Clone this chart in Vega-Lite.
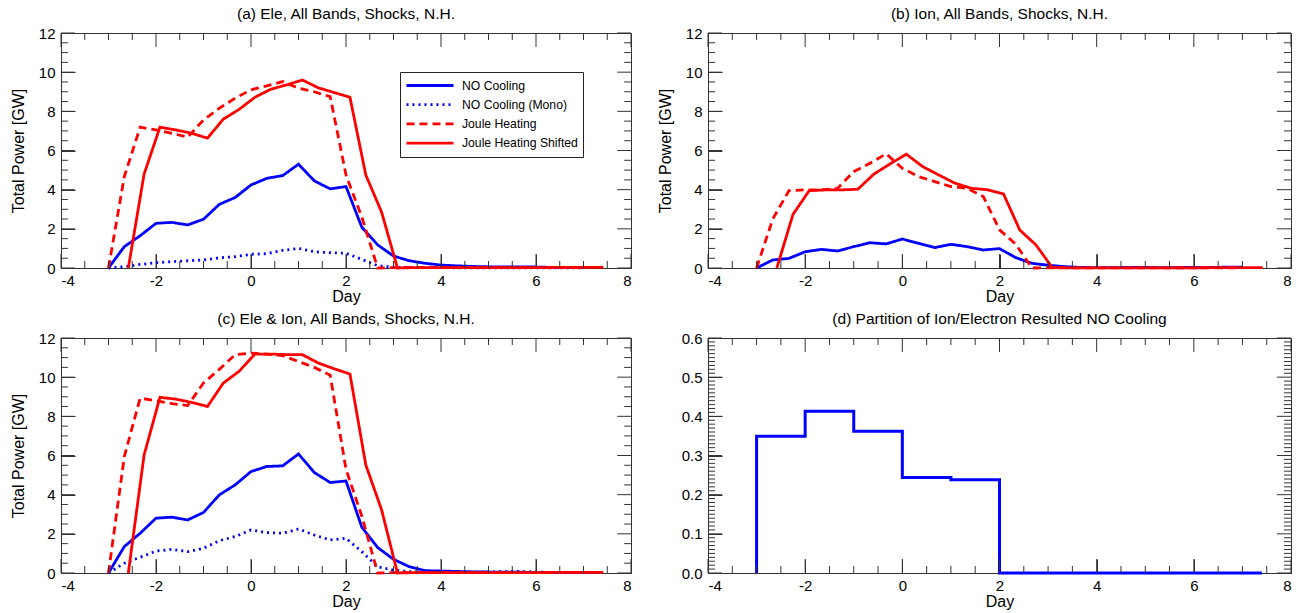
{
"$schema":"https://vega.github.io/schema/vega-lite/v6.json",
"background":"white",
"padding":{"left":9,"top":6,"right":8,"bottom":0},
"config":{
 "font":"Liberation Sans",
 "view":{"stroke":"#333"},
 "axis":{"labelFontSize":15,"labelColor":"black","titleFontSize":16,"titleFontWeight":"normal","titleColor":"black","grid":false,"domain":false,"tickColor":"#333"},
 "title":{"fontSize":15.5,"fontWeight":"normal","color":"black","offset":4}
},
"datasets":{
 "xmaj":[{"t":-4},{"t":-2},{"t":0},{"t":2},{"t":4},{"t":6},{"t":8}],
 "xmin":[{"t":-3.5},{"t":-3},{"t":-2.5},{"t":-1.5},{"t":-1},{"t":-0.5},{"t":0.5},{"t":1},{"t":1.5},{"t":2.5},{"t":3},{"t":3.5},{"t":4.5},{"t":5},{"t":5.5},{"t":6.5},{"t":7},{"t":7.5}],
 "ymaj":[{"t":0},{"t":2},{"t":4},{"t":6},{"t":8},{"t":10},{"t":12}],
 "ymin":[{"t":0.5},{"t":1},{"t":1.5},{"t":2.5},{"t":3},{"t":3.5},{"t":4.5},{"t":5},{"t":5.5},{"t":6.5},{"t":7},{"t":7.5},{"t":8.5},{"t":9},{"t":9.5},{"t":10.5},{"t":11},{"t":11.5}],
 "ydmaj":[{"t":0},{"t":0.1},{"t":0.2},{"t":0.3},{"t":0.4},{"t":0.5},{"t":0.6}],
 "ydmin":[{"t":0.01},{"t":0.02},{"t":0.03},{"t":0.04},{"t":0.05},{"t":0.06},{"t":0.07},{"t":0.08},{"t":0.09},{"t":0.11},{"t":0.12},{"t":0.13},{"t":0.14},{"t":0.15},{"t":0.16},{"t":0.17},{"t":0.18},{"t":0.19},{"t":0.21},{"t":0.22},{"t":0.23},{"t":0.24},{"t":0.25},{"t":0.26},{"t":0.27},{"t":0.28},{"t":0.29},{"t":0.31},{"t":0.32},{"t":0.33},{"t":0.34},{"t":0.35},{"t":0.36},{"t":0.37},{"t":0.38},{"t":0.39},{"t":0.41},{"t":0.42},{"t":0.43},{"t":0.44},{"t":0.45},{"t":0.46},{"t":0.47},{"t":0.48},{"t":0.49},{"t":0.51},{"t":0.52},{"t":0.53},{"t":0.54},{"t":0.55},{"t":0.56},{"t":0.57},{"t":0.58},{"t":0.59}]
},
"data":{"values":[
{"panel":"a","series":"NO Cooling","day":-3,"power":0},{"panel":"a","series":"NO Cooling","day":-2.667,"power":1.09},{"panel":"a","series":"NO Cooling","day":-2.333,"power":1.65},{"panel":"a","series":"NO Cooling","day":-2,"power":2.28},{"panel":"a","series":"NO Cooling","day":-1.667,"power":2.33},{"panel":"a","series":"NO Cooling","day":-1.333,"power":2.2},{"panel":"a","series":"NO Cooling","day":-1,"power":2.49},{"panel":"a","series":"NO Cooling","day":-0.667,"power":3.25},{"panel":"a","series":"NO Cooling","day":-0.333,"power":3.6},{"panel":"a","series":"NO Cooling","day":0,"power":4.24},{"panel":"a","series":"NO Cooling","day":0.333,"power":4.58},{"panel":"a","series":"NO Cooling","day":0.667,"power":4.72},{"panel":"a","series":"NO Cooling","day":1,"power":5.3},{"panel":"a","series":"NO Cooling","day":1.333,"power":4.45},{"panel":"a","series":"NO Cooling","day":1.667,"power":4.04},{"panel":"a","series":"NO Cooling","day":2,"power":4.16},{"panel":"a","series":"NO Cooling","day":2.333,"power":2.08},{"panel":"a","series":"NO Cooling","day":2.667,"power":1.18},{"panel":"a","series":"NO Cooling","day":3,"power":0.61},{"panel":"a","series":"NO Cooling","day":3.333,"power":0.37},{"panel":"a","series":"NO Cooling","day":3.667,"power":0.24},{"panel":"a","series":"NO Cooling","day":4,"power":0.15},{"panel":"a","series":"NO Cooling","day":4.333,"power":0.11},{"panel":"a","series":"NO Cooling","day":4.667,"power":0.08},{"panel":"a","series":"NO Cooling","day":5,"power":0.06},{"panel":"a","series":"NO Cooling","day":5.333,"power":0.05},{"panel":"a","series":"NO Cooling","day":5.667,"power":0.05},{"panel":"a","series":"NO Cooling","day":6,"power":0.05},{"panel":"a","series":"NO Cooling","day":6.333,"power":0.03},{"panel":"a","series":"NO Cooling","day":6.667,"power":0.02},{"panel":"a","series":"NO Cooling","day":7,"power":0.02},
{"panel":"a","series":"NO Cooling (Mono)","day":-3,"power":0},{"panel":"a","series":"NO Cooling (Mono)","day":-2.667,"power":0.07},{"panel":"a","series":"NO Cooling (Mono)","day":-2.333,"power":0.18},{"panel":"a","series":"NO Cooling (Mono)","day":-2,"power":0.27},{"panel":"a","series":"NO Cooling (Mono)","day":-1.667,"power":0.32},{"panel":"a","series":"NO Cooling (Mono)","day":-1.333,"power":0.37},{"panel":"a","series":"NO Cooling (Mono)","day":-1,"power":0.41},{"panel":"a","series":"NO Cooling (Mono)","day":-0.667,"power":0.52},{"panel":"a","series":"NO Cooling (Mono)","day":-0.333,"power":0.58},{"panel":"a","series":"NO Cooling (Mono)","day":0,"power":0.7},{"panel":"a","series":"NO Cooling (Mono)","day":0.333,"power":0.73},{"panel":"a","series":"NO Cooling (Mono)","day":0.667,"power":0.9},{"panel":"a","series":"NO Cooling (Mono)","day":1,"power":1.0},{"panel":"a","series":"NO Cooling (Mono)","day":1.333,"power":0.83},{"panel":"a","series":"NO Cooling (Mono)","day":1.667,"power":0.78},{"panel":"a","series":"NO Cooling (Mono)","day":2,"power":0.75},{"panel":"a","series":"NO Cooling (Mono)","day":2.333,"power":0.44},{"panel":"a","series":"NO Cooling (Mono)","day":2.667,"power":0.12},{"panel":"a","series":"NO Cooling (Mono)","day":3,"power":0.04},{"panel":"a","series":"NO Cooling (Mono)","day":3.333,"power":0.02},{"panel":"a","series":"NO Cooling (Mono)","day":3.667,"power":0.02},{"panel":"a","series":"NO Cooling (Mono)","day":4,"power":0.02},{"panel":"a","series":"NO Cooling (Mono)","day":4.333,"power":0.01},{"panel":"a","series":"NO Cooling (Mono)","day":4.667,"power":0.01},{"panel":"a","series":"NO Cooling (Mono)","day":5,"power":0.01},{"panel":"a","series":"NO Cooling (Mono)","day":5.333,"power":0.01},{"panel":"a","series":"NO Cooling (Mono)","day":5.667,"power":0.01},{"panel":"a","series":"NO Cooling (Mono)","day":6,"power":0.01},{"panel":"a","series":"NO Cooling (Mono)","day":6.333,"power":0.01},{"panel":"a","series":"NO Cooling (Mono)","day":6.667,"power":0.01},{"panel":"a","series":"NO Cooling (Mono)","day":7,"power":0.01},
{"panel":"a","series":"Joule Heating","day":-3,"power":0},{"panel":"a","series":"Joule Heating","day":-2.667,"power":4.67},{"panel":"a","series":"Joule Heating","day":-2.333,"power":7.19},{"panel":"a","series":"Joule Heating","day":-2,"power":7.05},{"panel":"a","series":"Joule Heating","day":-1.667,"power":6.88},{"panel":"a","series":"Joule Heating","day":-1.333,"power":6.68},{"panel":"a","series":"Joule Heating","day":-1,"power":7.56},{"panel":"a","series":"Joule Heating","day":-0.667,"power":8.16},{"panel":"a","series":"Joule Heating","day":-0.333,"power":8.67},{"panel":"a","series":"Joule Heating","day":0,"power":9.1},{"panel":"a","series":"Joule Heating","day":0.333,"power":9.3},{"panel":"a","series":"Joule Heating","day":0.667,"power":9.52},{"panel":"a","series":"Joule Heating","day":1,"power":9.18},{"panel":"a","series":"Joule Heating","day":1.333,"power":9.0},{"panel":"a","series":"Joule Heating","day":1.667,"power":8.75},{"panel":"a","series":"Joule Heating","day":2,"power":4.75},{"panel":"a","series":"Joule Heating","day":2.333,"power":2.6},{"panel":"a","series":"Joule Heating","day":2.667,"power":0},{"panel":"a","series":"Joule Heating","day":3,"power":0.02},{"panel":"a","series":"Joule Heating","day":3.333,"power":0.02},{"panel":"a","series":"Joule Heating","day":3.667,"power":0.02},{"panel":"a","series":"Joule Heating","day":4,"power":0.02},{"panel":"a","series":"Joule Heating","day":4.333,"power":0.02},{"panel":"a","series":"Joule Heating","day":4.667,"power":0.02},{"panel":"a","series":"Joule Heating","day":5,"power":0.02},{"panel":"a","series":"Joule Heating","day":5.333,"power":0.02},{"panel":"a","series":"Joule Heating","day":5.667,"power":0.02},{"panel":"a","series":"Joule Heating","day":6,"power":0.02},{"panel":"a","series":"Joule Heating","day":6.333,"power":0.02},{"panel":"a","series":"Joule Heating","day":6.667,"power":0.02},{"panel":"a","series":"Joule Heating","day":7,"power":0.02},
{"panel":"a","series":"Joule Heating Shifted","day":-2.583,"power":0},{"panel":"a","series":"Joule Heating Shifted","day":-2.25,"power":4.8},{"panel":"a","series":"Joule Heating Shifted","day":-1.917,"power":7.19},{"panel":"a","series":"Joule Heating Shifted","day":-1.583,"power":7.05},{"panel":"a","series":"Joule Heating Shifted","day":-1.25,"power":6.88},{"panel":"a","series":"Joule Heating Shifted","day":-0.917,"power":6.63},{"panel":"a","series":"Joule Heating Shifted","day":-0.583,"power":7.6},{"panel":"a","series":"Joule Heating Shifted","day":-0.25,"power":8.1},{"panel":"a","series":"Joule Heating Shifted","day":0.083,"power":8.72},{"panel":"a","series":"Joule Heating Shifted","day":0.417,"power":9.13},{"panel":"a","series":"Joule Heating Shifted","day":0.75,"power":9.35},{"panel":"a","series":"Joule Heating Shifted","day":1.083,"power":9.6},{"panel":"a","series":"Joule Heating Shifted","day":1.417,"power":9.2},{"panel":"a","series":"Joule Heating Shifted","day":1.75,"power":8.96},{"panel":"a","series":"Joule Heating Shifted","day":2.083,"power":8.72},{"panel":"a","series":"Joule Heating Shifted","day":2.417,"power":4.75},{"panel":"a","series":"Joule Heating Shifted","day":2.75,"power":2.85},{"panel":"a","series":"Joule Heating Shifted","day":3.083,"power":0},{"panel":"a","series":"Joule Heating Shifted","day":3.417,"power":0.02},{"panel":"a","series":"Joule Heating Shifted","day":3.75,"power":0.02},{"panel":"a","series":"Joule Heating Shifted","day":4.083,"power":0.02},{"panel":"a","series":"Joule Heating Shifted","day":4.417,"power":0.02},{"panel":"a","series":"Joule Heating Shifted","day":4.75,"power":0.02},{"panel":"a","series":"Joule Heating Shifted","day":5.083,"power":0.02},{"panel":"a","series":"Joule Heating Shifted","day":5.417,"power":0.02},{"panel":"a","series":"Joule Heating Shifted","day":5.75,"power":0.02},{"panel":"a","series":"Joule Heating Shifted","day":6.083,"power":0.02},{"panel":"a","series":"Joule Heating Shifted","day":6.417,"power":0.03},{"panel":"a","series":"Joule Heating Shifted","day":6.75,"power":0.03},{"panel":"a","series":"Joule Heating Shifted","day":7.083,"power":0.03},{"panel":"a","series":"Joule Heating Shifted","day":7.417,"power":0.03},
{"panel":"b","series":"NO Cooling","day":-3,"power":0},{"panel":"b","series":"NO Cooling","day":-2.667,"power":0.41},{"panel":"b","series":"NO Cooling","day":-2.333,"power":0.49},{"panel":"b","series":"NO Cooling","day":-2,"power":0.83},{"panel":"b","series":"NO Cooling","day":-1.667,"power":0.95},{"panel":"b","series":"NO Cooling","day":-1.333,"power":0.87},{"panel":"b","series":"NO Cooling","day":-1,"power":1.09},{"panel":"b","series":"NO Cooling","day":-0.667,"power":1.29},{"panel":"b","series":"NO Cooling","day":-0.333,"power":1.23},{"panel":"b","series":"NO Cooling","day":0,"power":1.48},{"panel":"b","series":"NO Cooling","day":0.333,"power":1.26},{"panel":"b","series":"NO Cooling","day":0.667,"power":1.04},{"panel":"b","series":"NO Cooling","day":1,"power":1.21},{"panel":"b","series":"NO Cooling","day":1.333,"power":1.09},{"panel":"b","series":"NO Cooling","day":1.667,"power":0.92},{"panel":"b","series":"NO Cooling","day":2,"power":0.99},{"panel":"b","series":"NO Cooling","day":2.333,"power":0.53},{"panel":"b","series":"NO Cooling","day":2.667,"power":0.24},{"panel":"b","series":"NO Cooling","day":3,"power":0.14},{"panel":"b","series":"NO Cooling","day":3.333,"power":0.07},{"panel":"b","series":"NO Cooling","day":3.667,"power":0.03},{"panel":"b","series":"NO Cooling","day":4,"power":0.02},{"panel":"b","series":"NO Cooling","day":4.333,"power":0.02},{"panel":"b","series":"NO Cooling","day":4.667,"power":0.03},{"panel":"b","series":"NO Cooling","day":5,"power":0.03},{"panel":"b","series":"NO Cooling","day":5.333,"power":0.02},{"panel":"b","series":"NO Cooling","day":5.667,"power":0.02},{"panel":"b","series":"NO Cooling","day":6,"power":0.03},{"panel":"b","series":"NO Cooling","day":6.333,"power":0.03},{"panel":"b","series":"NO Cooling","day":6.667,"power":0.04},{"panel":"b","series":"NO Cooling","day":7,"power":0.04},
{"panel":"b","series":"Joule Heating","day":-3,"power":0},{"panel":"b","series":"Joule Heating","day":-2.667,"power":2.5},{"panel":"b","series":"Joule Heating","day":-2.333,"power":3.95},{"panel":"b","series":"Joule Heating","day":-2,"power":3.99},{"panel":"b","series":"Joule Heating","day":-1.667,"power":3.99},{"panel":"b","series":"Joule Heating","day":-1.333,"power":4.07},{"panel":"b","series":"Joule Heating","day":-1,"power":4.92},{"panel":"b","series":"Joule Heating","day":-0.667,"power":5.35},{"panel":"b","series":"Joule Heating","day":-0.333,"power":5.83},{"panel":"b","series":"Joule Heating","day":0,"power":5.09},{"panel":"b","series":"Joule Heating","day":0.333,"power":4.67},{"panel":"b","series":"Joule Heating","day":0.667,"power":4.41},{"panel":"b","series":"Joule Heating","day":1,"power":4.16},{"panel":"b","series":"Joule Heating","day":1.333,"power":4.07},{"panel":"b","series":"Joule Heating","day":1.667,"power":3.65},{"panel":"b","series":"Joule Heating","day":2,"power":1.95},{"panel":"b","series":"Joule Heating","day":2.333,"power":1.22},{"panel":"b","series":"Joule Heating","day":2.667,"power":0},{"panel":"b","series":"Joule Heating","day":3,"power":0.01},{"panel":"b","series":"Joule Heating","day":3.333,"power":0.01},{"panel":"b","series":"Joule Heating","day":3.667,"power":0.01},{"panel":"b","series":"Joule Heating","day":4,"power":0.01},{"panel":"b","series":"Joule Heating","day":4.333,"power":0.01},{"panel":"b","series":"Joule Heating","day":4.667,"power":0.01},{"panel":"b","series":"Joule Heating","day":5,"power":0.01},{"panel":"b","series":"Joule Heating","day":5.333,"power":0.01},{"panel":"b","series":"Joule Heating","day":5.667,"power":0.01},{"panel":"b","series":"Joule Heating","day":6,"power":0.01},{"panel":"b","series":"Joule Heating","day":6.333,"power":0.01},{"panel":"b","series":"Joule Heating","day":6.667,"power":0.01},{"panel":"b","series":"Joule Heating","day":7,"power":0.01},
{"panel":"b","series":"Joule Heating Shifted","day":-2.583,"power":0},{"panel":"b","series":"Joule Heating Shifted","day":-2.25,"power":2.74},{"panel":"b","series":"Joule Heating Shifted","day":-1.917,"power":3.95},{"panel":"b","series":"Joule Heating Shifted","day":-1.583,"power":3.99},{"panel":"b","series":"Joule Heating Shifted","day":-1.25,"power":3.99},{"panel":"b","series":"Joule Heating Shifted","day":-0.917,"power":4.02},{"panel":"b","series":"Joule Heating Shifted","day":-0.583,"power":4.8},{"panel":"b","series":"Joule Heating Shifted","day":-0.25,"power":5.32},{"panel":"b","series":"Joule Heating Shifted","day":0.083,"power":5.81},{"panel":"b","series":"Joule Heating Shifted","day":0.417,"power":5.18},{"panel":"b","series":"Joule Heating Shifted","day":0.75,"power":4.75},{"panel":"b","series":"Joule Heating Shifted","day":1.083,"power":4.33},{"panel":"b","series":"Joule Heating Shifted","day":1.417,"power":4.07},{"panel":"b","series":"Joule Heating Shifted","day":1.75,"power":4.0},{"panel":"b","series":"Joule Heating Shifted","day":2.083,"power":3.78},{"panel":"b","series":"Joule Heating Shifted","day":2.417,"power":1.94},{"panel":"b","series":"Joule Heating Shifted","day":2.75,"power":1.18},{"panel":"b","series":"Joule Heating Shifted","day":3.083,"power":0.03},{"panel":"b","series":"Joule Heating Shifted","day":3.417,"power":0.01},{"panel":"b","series":"Joule Heating Shifted","day":3.75,"power":0.01},{"panel":"b","series":"Joule Heating Shifted","day":4.083,"power":0.01},{"panel":"b","series":"Joule Heating Shifted","day":4.417,"power":0.01},{"panel":"b","series":"Joule Heating Shifted","day":4.75,"power":0.01},{"panel":"b","series":"Joule Heating Shifted","day":5.083,"power":0.01},{"panel":"b","series":"Joule Heating Shifted","day":5.417,"power":0.01},{"panel":"b","series":"Joule Heating Shifted","day":5.75,"power":0.01},{"panel":"b","series":"Joule Heating Shifted","day":6.083,"power":0.01},{"panel":"b","series":"Joule Heating Shifted","day":6.417,"power":0.02},{"panel":"b","series":"Joule Heating Shifted","day":6.75,"power":0.02},{"panel":"b","series":"Joule Heating Shifted","day":7.083,"power":0.02},{"panel":"b","series":"Joule Heating Shifted","day":7.417,"power":0.02},
{"panel":"c","series":"NO Cooling","day":-3,"power":0},{"panel":"c","series":"NO Cooling","day":-2.667,"power":1.35},{"panel":"c","series":"NO Cooling","day":-2.333,"power":2.03},{"panel":"c","series":"NO Cooling","day":-2,"power":2.8},{"panel":"c","series":"NO Cooling","day":-1.667,"power":2.85},{"panel":"c","series":"NO Cooling","day":-1.333,"power":2.71},{"panel":"c","series":"NO Cooling","day":-1,"power":3.09},{"panel":"c","series":"NO Cooling","day":-0.667,"power":3.99},{"panel":"c","series":"NO Cooling","day":-0.333,"power":4.5},{"panel":"c","series":"NO Cooling","day":0,"power":5.18},{"panel":"c","series":"NO Cooling","day":0.333,"power":5.44},{"panel":"c","series":"NO Cooling","day":0.667,"power":5.47},{"panel":"c","series":"NO Cooling","day":1,"power":6.08},{"panel":"c","series":"NO Cooling","day":1.333,"power":5.13},{"panel":"c","series":"NO Cooling","day":1.667,"power":4.62},{"panel":"c","series":"NO Cooling","day":2,"power":4.7},{"panel":"c","series":"NO Cooling","day":2.333,"power":2.34},{"panel":"c","series":"NO Cooling","day":2.667,"power":1.3},{"panel":"c","series":"NO Cooling","day":3,"power":0.7},{"panel":"c","series":"NO Cooling","day":3.333,"power":0.32},{"panel":"c","series":"NO Cooling","day":3.667,"power":0.12},{"panel":"c","series":"NO Cooling","day":4,"power":0.1},{"panel":"c","series":"NO Cooling","day":4.333,"power":0.08},{"panel":"c","series":"NO Cooling","day":4.667,"power":0.06},{"panel":"c","series":"NO Cooling","day":5,"power":0.05},{"panel":"c","series":"NO Cooling","day":5.333,"power":0.04},{"panel":"c","series":"NO Cooling","day":5.667,"power":0.04},{"panel":"c","series":"NO Cooling","day":6,"power":0.03},{"panel":"c","series":"NO Cooling","day":6.333,"power":0.02},{"panel":"c","series":"NO Cooling","day":6.667,"power":0.02},{"panel":"c","series":"NO Cooling","day":7,"power":0.02},
{"panel":"c","series":"NO Cooling (Mono)","day":-3,"power":0},{"panel":"c","series":"NO Cooling (Mono)","day":-2.667,"power":0.5},{"panel":"c","series":"NO Cooling (Mono)","day":-2.333,"power":0.8},{"panel":"c","series":"NO Cooling (Mono)","day":-2,"power":1.12},{"panel":"c","series":"NO Cooling (Mono)","day":-1.667,"power":1.21},{"panel":"c","series":"NO Cooling (Mono)","day":-1.333,"power":1.09},{"panel":"c","series":"NO Cooling (Mono)","day":-1,"power":1.26},{"panel":"c","series":"NO Cooling (Mono)","day":-0.667,"power":1.65},{"panel":"c","series":"NO Cooling (Mono)","day":-0.333,"power":1.86},{"panel":"c","series":"NO Cooling (Mono)","day":0,"power":2.2},{"panel":"c","series":"NO Cooling (Mono)","day":0.333,"power":2.06},{"panel":"c","series":"NO Cooling (Mono)","day":0.667,"power":2.03},{"panel":"c","series":"NO Cooling (Mono)","day":1,"power":2.25},{"panel":"c","series":"NO Cooling (Mono)","day":1.333,"power":1.94},{"panel":"c","series":"NO Cooling (Mono)","day":1.667,"power":1.69},{"panel":"c","series":"NO Cooling (Mono)","day":2,"power":1.77},{"panel":"c","series":"NO Cooling (Mono)","day":2.333,"power":1.09},{"panel":"c","series":"NO Cooling (Mono)","day":2.667,"power":0.32},{"panel":"c","series":"NO Cooling (Mono)","day":3,"power":0.15},{"panel":"c","series":"NO Cooling (Mono)","day":3.333,"power":0.07},{"panel":"c","series":"NO Cooling (Mono)","day":3.667,"power":0.05},{"panel":"c","series":"NO Cooling (Mono)","day":4,"power":0.04},{"panel":"c","series":"NO Cooling (Mono)","day":4.333,"power":0.04},{"panel":"c","series":"NO Cooling (Mono)","day":4.667,"power":0.04},{"panel":"c","series":"NO Cooling (Mono)","day":5,"power":0.05},{"panel":"c","series":"NO Cooling (Mono)","day":5.333,"power":0.07},{"panel":"c","series":"NO Cooling (Mono)","day":5.667,"power":0.08},{"panel":"c","series":"NO Cooling (Mono)","day":6,"power":0.05},{"panel":"c","series":"NO Cooling (Mono)","day":6.333,"power":0.03},{"panel":"c","series":"NO Cooling (Mono)","day":6.667,"power":0.02},{"panel":"c","series":"NO Cooling (Mono)","day":7,"power":0.02},
{"panel":"c","series":"Joule Heating","day":-3,"power":0},{"panel":"c","series":"Joule Heating","day":-2.667,"power":5.95},{"panel":"c","series":"Joule Heating","day":-2.333,"power":8.93},{"panel":"c","series":"Joule Heating","day":-2,"power":8.8},{"panel":"c","series":"Joule Heating","day":-1.667,"power":8.65},{"panel":"c","series":"Joule Heating","day":-1.333,"power":8.55},{"panel":"c","series":"Joule Heating","day":-1,"power":9.7},{"panel":"c","series":"Joule Heating","day":-0.667,"power":10.4},{"panel":"c","series":"Joule Heating","day":-0.333,"power":11.15},{"panel":"c","series":"Joule Heating","day":0,"power":11.23},{"panel":"c","series":"Joule Heating","day":0.333,"power":11.18},{"panel":"c","series":"Joule Heating","day":0.667,"power":11.1},{"panel":"c","series":"Joule Heating","day":1,"power":10.8},{"panel":"c","series":"Joule Heating","day":1.333,"power":10.5},{"panel":"c","series":"Joule Heating","day":1.667,"power":10.1},{"panel":"c","series":"Joule Heating","day":2,"power":5.3},{"panel":"c","series":"Joule Heating","day":2.333,"power":2.9},{"panel":"c","series":"Joule Heating","day":2.667,"power":0},{"panel":"c","series":"Joule Heating","day":3,"power":0.02},{"panel":"c","series":"Joule Heating","day":3.333,"power":0.02},{"panel":"c","series":"Joule Heating","day":3.667,"power":0.02},{"panel":"c","series":"Joule Heating","day":4,"power":0.02},{"panel":"c","series":"Joule Heating","day":4.333,"power":0.02},{"panel":"c","series":"Joule Heating","day":4.667,"power":0.02},{"panel":"c","series":"Joule Heating","day":5,"power":0.02},{"panel":"c","series":"Joule Heating","day":5.333,"power":0.02},{"panel":"c","series":"Joule Heating","day":5.667,"power":0.02},{"panel":"c","series":"Joule Heating","day":6,"power":0.02},{"panel":"c","series":"Joule Heating","day":6.333,"power":0.02},{"panel":"c","series":"Joule Heating","day":6.667,"power":0.02},{"panel":"c","series":"Joule Heating","day":7,"power":0.02},
{"panel":"c","series":"Joule Heating Shifted","day":-2.583,"power":0},{"panel":"c","series":"Joule Heating Shifted","day":-2.25,"power":6.03},{"panel":"c","series":"Joule Heating Shifted","day":-1.917,"power":8.97},{"panel":"c","series":"Joule Heating Shifted","day":-1.583,"power":8.88},{"panel":"c","series":"Joule Heating Shifted","day":-1.25,"power":8.71},{"panel":"c","series":"Joule Heating Shifted","day":-0.917,"power":8.5},{"panel":"c","series":"Joule Heating Shifted","day":-0.583,"power":9.7},{"panel":"c","series":"Joule Heating Shifted","day":-0.25,"power":10.3},{"panel":"c","series":"Joule Heating Shifted","day":0.083,"power":11.18},{"panel":"c","series":"Joule Heating Shifted","day":0.417,"power":11.18},{"panel":"c","series":"Joule Heating Shifted","day":0.75,"power":11.15},{"panel":"c","series":"Joule Heating Shifted","day":1.083,"power":11.15},{"panel":"c","series":"Joule Heating Shifted","day":1.417,"power":10.72},{"panel":"c","series":"Joule Heating Shifted","day":1.75,"power":10.43},{"panel":"c","series":"Joule Heating Shifted","day":2.083,"power":10.16},{"panel":"c","series":"Joule Heating Shifted","day":2.417,"power":5.52},{"panel":"c","series":"Joule Heating Shifted","day":2.75,"power":3.22},{"panel":"c","series":"Joule Heating Shifted","day":3.083,"power":0},{"panel":"c","series":"Joule Heating Shifted","day":3.417,"power":0.02},{"panel":"c","series":"Joule Heating Shifted","day":3.75,"power":0.02},{"panel":"c","series":"Joule Heating Shifted","day":4.083,"power":0.02},{"panel":"c","series":"Joule Heating Shifted","day":4.417,"power":0.02},{"panel":"c","series":"Joule Heating Shifted","day":4.75,"power":0.02},{"panel":"c","series":"Joule Heating Shifted","day":5.083,"power":0.02},{"panel":"c","series":"Joule Heating Shifted","day":5.417,"power":0.02},{"panel":"c","series":"Joule Heating Shifted","day":5.75,"power":0.02},{"panel":"c","series":"Joule Heating Shifted","day":6.083,"power":0.02},{"panel":"c","series":"Joule Heating Shifted","day":6.417,"power":0.03},{"panel":"c","series":"Joule Heating Shifted","day":6.75,"power":0.03},{"panel":"c","series":"Joule Heating Shifted","day":7.083,"power":0.03},{"panel":"c","series":"Joule Heating Shifted","day":7.417,"power":0.03},
{"panel":"d","idx":0,"day":-3,"power":0},{"panel":"d","idx":1,"day":-3,"power":0.349},{"panel":"d","idx":2,"day":-2,"power":0.349},{"panel":"d","idx":3,"day":-2,"power":0.413},{"panel":"d","idx":4,"day":-1,"power":0.413},{"panel":"d","idx":5,"day":-1,"power":0.362},{"panel":"d","idx":6,"day":0,"power":0.362},{"panel":"d","idx":7,"day":0,"power":0.244},{"panel":"d","idx":8,"day":1,"power":0.244},{"panel":"d","idx":9,"day":1,"power":0.238},{"panel":"d","idx":10,"day":2,"power":0.238},{"panel":"d","idx":11,"day":2,"power":0},{"panel":"d","idx":12,"day":7.4,"power":0}
]},
"columns":2,
"bounds":"flush",
"align":"each",
"spacing":{"row":70,"column":77},
"resolve":{"scale":{"color":"independent","strokeDash":"independent"},"legend":{"color":"independent","strokeDash":"independent"}},
"concat":[
{
 "width":570,"height":235,
 "title":"(a) Ele, All Bands, Shocks, N.H.",
 "transform":[{"filter":"datum.panel === 'a'"}],
 "layer":[
  {"mark":{"type":"line","strokeWidth":2.8},
   "encoding":{
    "x":{"field":"day","type":"quantitative","scale":{"domain":[-4,8],"nice":false},"axis":{"orient":"bottom","tickSize":-14,"values":[-4,-2,0,2,4,6,8],"labelExpr":"'' + datum.value","labelPadding":19,"title":"Day","titlePadding":0}},
    "y":{"field":"power","type":"quantitative","scale":{"domain":[0,12],"nice":false},"axis":{"orient":"left","tickSize":-14,"values":[0,2,4,6,8,10,12],"labelExpr":"'' + datum.value","labelPadding":20,"title":"Total Power [GW]","titlePadding":12}},
    "color":{"field":"series","type":"nominal","scale":{"domain":["NO Cooling","NO Cooling (Mono)","Joule Heating","Joule Heating Shifted"],"range":["#0000ff","#0000ff","#ff0000","#ff0000"]},"legend":{"title":null,"orient":"none","legendX":339,"legendY":39,"symbolType":"stroke","symbolSize":2209,"symbolStrokeWidth":2.8,"clipHeight":17,"rowPadding":2.2,"labelFontSize":12.2,"labelColor":"black","labelOffset":7,"padding":5,"strokeColor":"#222","fillColor":"white","labelLimit":300}},
    "strokeDash":{"field":"series","type":"nominal","scale":{"domain":["NO Cooling","NO Cooling (Mono)","Joule Heating","Joule Heating Shifted"],"range":[[1,0],[2,4],[8,5],[1,0]]},"legend":{"title":null,"orient":"none","legendX":339,"legendY":39,"symbolType":"stroke","symbolSize":2209,"symbolStrokeWidth":2.8,"clipHeight":17,"rowPadding":2.2,"labelFontSize":12.2,"labelColor":"black","labelOffset":7,"padding":5,"strokeColor":"#222","fillColor":"white","labelLimit":300}}
   }},
  {"data":{"name":"xmaj"},"mark":{"type":"rule","color":"#333","strokeWidth":1},"encoding":{"x":{"field":"t","type":"quantitative","scale":{"domain":[-4,8],"nice":false},"axis":null},"y":{"datum":0,"type":"quantitative","scale":{"domain":[0,12],"nice":false},"axis":null},"y2":{"datum":0.715}}},
  {"data":{"name":"xmin"},"mark":{"type":"rule","color":"#333","strokeWidth":1},"encoding":{"x":{"field":"t","type":"quantitative","scale":{"domain":[-4,8],"nice":false},"axis":null},"y":{"datum":0,"type":"quantitative","scale":{"domain":[0,12],"nice":false},"axis":null},"y2":{"datum":0.357}}},
  {"data":{"name":"xmaj"},"mark":{"type":"rule","color":"#333","strokeWidth":1},"encoding":{"x":{"field":"t","type":"quantitative","scale":{"domain":[-4,8],"nice":false},"axis":null},"y":{"datum":12,"type":"quantitative","scale":{"domain":[0,12],"nice":false},"axis":null},"y2":{"datum":11.285}}},
  {"data":{"name":"xmin"},"mark":{"type":"rule","color":"#333","strokeWidth":1},"encoding":{"x":{"field":"t","type":"quantitative","scale":{"domain":[-4,8],"nice":false},"axis":null},"y":{"datum":12,"type":"quantitative","scale":{"domain":[0,12],"nice":false},"axis":null},"y2":{"datum":11.643}}},
  {"data":{"name":"ymaj"},"mark":{"type":"rule","color":"#333","strokeWidth":1},"encoding":{"y":{"field":"t","type":"quantitative","scale":{"domain":[0,12],"nice":false},"axis":null},"x":{"datum":-4,"type":"quantitative","scale":{"domain":[-4,8],"nice":false},"axis":null},"x2":{"datum":-3.71}}},
  {"data":{"name":"ymin"},"mark":{"type":"rule","color":"#333","strokeWidth":1},"encoding":{"y":{"field":"t","type":"quantitative","scale":{"domain":[0,12],"nice":false},"axis":null},"x":{"datum":-4,"type":"quantitative","scale":{"domain":[-4,8],"nice":false},"axis":null},"x2":{"datum":-3.855}}},
  {"data":{"name":"ymaj"},"mark":{"type":"rule","color":"#333","strokeWidth":1},"encoding":{"y":{"field":"t","type":"quantitative","scale":{"domain":[0,12],"nice":false},"axis":null},"x":{"datum":8,"type":"quantitative","scale":{"domain":[-4,8],"nice":false},"axis":null},"x2":{"datum":7.71}}},
  {"data":{"name":"ymin"},"mark":{"type":"rule","color":"#333","strokeWidth":1},"encoding":{"y":{"field":"t","type":"quantitative","scale":{"domain":[0,12],"nice":false},"axis":null},"x":{"datum":8,"type":"quantitative","scale":{"domain":[-4,8],"nice":false},"axis":null},"x2":{"datum":7.855}}}
 ],
 "resolve":{"axis":{"x":"independent","y":"independent"}}
},
{
 "width":583,"height":235,
 "title":"(b) Ion, All Bands, Shocks, N.H.",
 "transform":[{"filter":"datum.panel === 'b'"}],
 "layer":[
  {"mark":{"type":"line","strokeWidth":2.8},
   "encoding":{
    "x":{"field":"day","type":"quantitative","scale":{"domain":[-4,8],"nice":false},"axis":{"orient":"bottom","tickSize":-14,"values":[-4,-2,0,2,4,6,8],"labelExpr":"'' + datum.value","labelPadding":19,"title":"Day","titlePadding":0}},
    "y":{"field":"power","type":"quantitative","scale":{"domain":[0,12],"nice":false},"axis":{"orient":"left","tickSize":-14,"values":[0,2,4,6,8,10,12],"labelExpr":"'' + datum.value","labelPadding":20,"title":"Total Power [GW]","titlePadding":12}},
    "color":{"field":"series","type":"nominal","scale":{"domain":["NO Cooling","NO Cooling (Mono)","Joule Heating","Joule Heating Shifted"],"range":["#0000ff","#0000ff","#ff0000","#ff0000"]},"legend":null},
    "strokeDash":{"field":"series","type":"nominal","scale":{"domain":["NO Cooling","NO Cooling (Mono)","Joule Heating","Joule Heating Shifted"],"range":[[1,0],[2,4],[8,5],[1,0]]},"legend":null}
   }},
  {"data":{"name":"xmaj"},"mark":{"type":"rule","color":"#333","strokeWidth":1},"encoding":{"x":{"field":"t","type":"quantitative","scale":{"domain":[-4,8],"nice":false},"axis":null},"y":{"datum":0,"type":"quantitative","scale":{"domain":[0,12],"nice":false},"axis":null},"y2":{"datum":0.715}}},
  {"data":{"name":"xmin"},"mark":{"type":"rule","color":"#333","strokeWidth":1},"encoding":{"x":{"field":"t","type":"quantitative","scale":{"domain":[-4,8],"nice":false},"axis":null},"y":{"datum":0,"type":"quantitative","scale":{"domain":[0,12],"nice":false},"axis":null},"y2":{"datum":0.357}}},
  {"data":{"name":"xmaj"},"mark":{"type":"rule","color":"#333","strokeWidth":1},"encoding":{"x":{"field":"t","type":"quantitative","scale":{"domain":[-4,8],"nice":false},"axis":null},"y":{"datum":12,"type":"quantitative","scale":{"domain":[0,12],"nice":false},"axis":null},"y2":{"datum":11.285}}},
  {"data":{"name":"xmin"},"mark":{"type":"rule","color":"#333","strokeWidth":1},"encoding":{"x":{"field":"t","type":"quantitative","scale":{"domain":[-4,8],"nice":false},"axis":null},"y":{"datum":12,"type":"quantitative","scale":{"domain":[0,12],"nice":false},"axis":null},"y2":{"datum":11.643}}},
  {"data":{"name":"ymaj"},"mark":{"type":"rule","color":"#333","strokeWidth":1},"encoding":{"y":{"field":"t","type":"quantitative","scale":{"domain":[0,12],"nice":false},"axis":null},"x":{"datum":-4,"type":"quantitative","scale":{"domain":[-4,8],"nice":false},"axis":null},"x2":{"datum":-3.71}}},
  {"data":{"name":"ymin"},"mark":{"type":"rule","color":"#333","strokeWidth":1},"encoding":{"y":{"field":"t","type":"quantitative","scale":{"domain":[0,12],"nice":false},"axis":null},"x":{"datum":-4,"type":"quantitative","scale":{"domain":[-4,8],"nice":false},"axis":null},"x2":{"datum":-3.855}}},
  {"data":{"name":"ymaj"},"mark":{"type":"rule","color":"#333","strokeWidth":1},"encoding":{"y":{"field":"t","type":"quantitative","scale":{"domain":[0,12],"nice":false},"axis":null},"x":{"datum":8,"type":"quantitative","scale":{"domain":[-4,8],"nice":false},"axis":null},"x2":{"datum":7.71}}},
  {"data":{"name":"ymin"},"mark":{"type":"rule","color":"#333","strokeWidth":1},"encoding":{"y":{"field":"t","type":"quantitative","scale":{"domain":[0,12],"nice":false},"axis":null},"x":{"datum":8,"type":"quantitative","scale":{"domain":[-4,8],"nice":false},"axis":null},"x2":{"datum":7.855}}}
 ],
 "resolve":{"axis":{"x":"independent","y":"independent"}}
},
{
 "width":570,"height":235,
 "title":"(c) Ele & Ion, All Bands, Shocks, N.H.",
 "transform":[{"filter":"datum.panel === 'c'"}],
 "layer":[
  {"mark":{"type":"line","strokeWidth":2.8},
   "encoding":{
    "x":{"field":"day","type":"quantitative","scale":{"domain":[-4,8],"nice":false},"axis":{"orient":"bottom","tickSize":-14,"values":[-4,-2,0,2,4,6,8],"labelExpr":"'' + datum.value","labelPadding":19,"title":"Day","titlePadding":0}},
    "y":{"field":"power","type":"quantitative","scale":{"domain":[0,12],"nice":false},"axis":{"orient":"left","tickSize":-14,"values":[0,2,4,6,8,10,12],"labelExpr":"'' + datum.value","labelPadding":20,"title":"Total Power [GW]","titlePadding":12}},
    "color":{"field":"series","type":"nominal","scale":{"domain":["NO Cooling","NO Cooling (Mono)","Joule Heating","Joule Heating Shifted"],"range":["#0000ff","#0000ff","#ff0000","#ff0000"]},"legend":null},
    "strokeDash":{"field":"series","type":"nominal","scale":{"domain":["NO Cooling","NO Cooling (Mono)","Joule Heating","Joule Heating Shifted"],"range":[[1,0],[2,4],[8,5],[1,0]]},"legend":null}
   }},
  {"data":{"name":"xmaj"},"mark":{"type":"rule","color":"#333","strokeWidth":1},"encoding":{"x":{"field":"t","type":"quantitative","scale":{"domain":[-4,8],"nice":false},"axis":null},"y":{"datum":0,"type":"quantitative","scale":{"domain":[0,12],"nice":false},"axis":null},"y2":{"datum":0.715}}},
  {"data":{"name":"xmin"},"mark":{"type":"rule","color":"#333","strokeWidth":1},"encoding":{"x":{"field":"t","type":"quantitative","scale":{"domain":[-4,8],"nice":false},"axis":null},"y":{"datum":0,"type":"quantitative","scale":{"domain":[0,12],"nice":false},"axis":null},"y2":{"datum":0.357}}},
  {"data":{"name":"xmaj"},"mark":{"type":"rule","color":"#333","strokeWidth":1},"encoding":{"x":{"field":"t","type":"quantitative","scale":{"domain":[-4,8],"nice":false},"axis":null},"y":{"datum":12,"type":"quantitative","scale":{"domain":[0,12],"nice":false},"axis":null},"y2":{"datum":11.285}}},
  {"data":{"name":"xmin"},"mark":{"type":"rule","color":"#333","strokeWidth":1},"encoding":{"x":{"field":"t","type":"quantitative","scale":{"domain":[-4,8],"nice":false},"axis":null},"y":{"datum":12,"type":"quantitative","scale":{"domain":[0,12],"nice":false},"axis":null},"y2":{"datum":11.643}}},
  {"data":{"name":"ymaj"},"mark":{"type":"rule","color":"#333","strokeWidth":1},"encoding":{"y":{"field":"t","type":"quantitative","scale":{"domain":[0,12],"nice":false},"axis":null},"x":{"datum":-4,"type":"quantitative","scale":{"domain":[-4,8],"nice":false},"axis":null},"x2":{"datum":-3.71}}},
  {"data":{"name":"ymin"},"mark":{"type":"rule","color":"#333","strokeWidth":1},"encoding":{"y":{"field":"t","type":"quantitative","scale":{"domain":[0,12],"nice":false},"axis":null},"x":{"datum":-4,"type":"quantitative","scale":{"domain":[-4,8],"nice":false},"axis":null},"x2":{"datum":-3.855}}},
  {"data":{"name":"ymaj"},"mark":{"type":"rule","color":"#333","strokeWidth":1},"encoding":{"y":{"field":"t","type":"quantitative","scale":{"domain":[0,12],"nice":false},"axis":null},"x":{"datum":8,"type":"quantitative","scale":{"domain":[-4,8],"nice":false},"axis":null},"x2":{"datum":7.71}}},
  {"data":{"name":"ymin"},"mark":{"type":"rule","color":"#333","strokeWidth":1},"encoding":{"y":{"field":"t","type":"quantitative","scale":{"domain":[0,12],"nice":false},"axis":null},"x":{"datum":8,"type":"quantitative","scale":{"domain":[-4,8],"nice":false},"axis":null},"x2":{"datum":7.855}}}
 ],
 "resolve":{"axis":{"x":"independent","y":"independent"}}
},
{
 "width":583,"height":235,
 "title":"(d) Partition of Ion/Electron Resulted NO Cooling",
 "transform":[{"filter":"datum.panel === 'd'"}],
 "layer":[
  {"mark":{"type":"line","strokeWidth":3,"color":"#0000ff","strokeJoin":"miter","strokeCap":"butt"},
   "encoding":{
    "x":{"field":"day","type":"quantitative","scale":{"domain":[-4,8],"nice":false},"axis":{"orient":"bottom","tickSize":-14,"values":[-4,-2,0,2,4,6,8],"labelExpr":"'' + datum.value","labelPadding":19,"title":"Day","titlePadding":0}},
    "y":{"field":"power","type":"quantitative","scale":{"domain":[0,0.6],"nice":false},"axis":{"orient":"left","tickSize":-14,"values":[0,0.1,0.2,0.3,0.4,0.5,0.6],"labelExpr":"format(datum.value, '.1f')","labelPadding":20,"title":null}},
    "order":{"field":"idx","type":"quantitative"}
   }},
  {"data":{"name":"xmaj"},"mark":{"type":"rule","color":"#333","strokeWidth":1},"encoding":{"x":{"field":"t","type":"quantitative","scale":{"domain":[-4,8],"nice":false},"axis":null},"y":{"datum":0,"type":"quantitative","scale":{"domain":[0,0.6],"nice":false},"axis":null},"y2":{"datum":0.0357}}},
  {"data":{"name":"xmin"},"mark":{"type":"rule","color":"#333","strokeWidth":1},"encoding":{"x":{"field":"t","type":"quantitative","scale":{"domain":[-4,8],"nice":false},"axis":null},"y":{"datum":0,"type":"quantitative","scale":{"domain":[0,0.6],"nice":false},"axis":null},"y2":{"datum":0.0179}}},
  {"data":{"name":"xmaj"},"mark":{"type":"rule","color":"#333","strokeWidth":1},"encoding":{"x":{"field":"t","type":"quantitative","scale":{"domain":[-4,8],"nice":false},"axis":null},"y":{"datum":0.6,"type":"quantitative","scale":{"domain":[0,0.6],"nice":false},"axis":null},"y2":{"datum":0.5643}}},
  {"data":{"name":"xmin"},"mark":{"type":"rule","color":"#333","strokeWidth":1},"encoding":{"x":{"field":"t","type":"quantitative","scale":{"domain":[-4,8],"nice":false},"axis":null},"y":{"datum":0.6,"type":"quantitative","scale":{"domain":[0,0.6],"nice":false},"axis":null},"y2":{"datum":0.5821}}},
  {"data":{"name":"ydmaj"},"mark":{"type":"rule","color":"#333","strokeWidth":1},"encoding":{"y":{"field":"t","type":"quantitative","scale":{"domain":[0,0.6],"nice":false},"axis":null},"x":{"datum":-4,"type":"quantitative","scale":{"domain":[-4,8],"nice":false},"axis":null},"x2":{"datum":-3.71}}},
  {"data":{"name":"ydmin"},"mark":{"type":"rule","color":"#333","strokeWidth":1},"encoding":{"y":{"field":"t","type":"quantitative","scale":{"domain":[0,0.6],"nice":false},"axis":null},"x":{"datum":-4,"type":"quantitative","scale":{"domain":[-4,8],"nice":false},"axis":null},"x2":{"datum":-3.855}}},
  {"data":{"name":"ydmaj"},"mark":{"type":"rule","color":"#333","strokeWidth":1},"encoding":{"y":{"field":"t","type":"quantitative","scale":{"domain":[0,0.6],"nice":false},"axis":null},"x":{"datum":8,"type":"quantitative","scale":{"domain":[-4,8],"nice":false},"axis":null},"x2":{"datum":7.71}}},
  {"data":{"name":"ydmin"},"mark":{"type":"rule","color":"#333","strokeWidth":1},"encoding":{"y":{"field":"t","type":"quantitative","scale":{"domain":[0,0.6],"nice":false},"axis":null},"x":{"datum":8,"type":"quantitative","scale":{"domain":[-4,8],"nice":false},"axis":null},"x2":{"datum":7.855}}}
 ],
 "resolve":{"axis":{"x":"independent","y":"independent"}}
}
]
}
